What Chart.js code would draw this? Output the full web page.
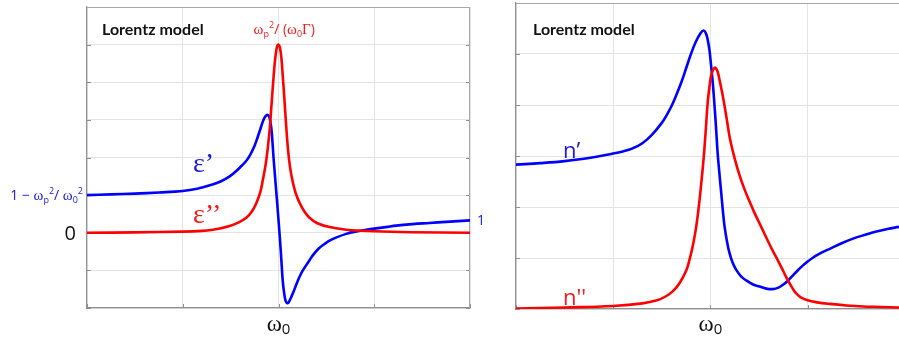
<!DOCTYPE html>
<html>
<head>
<meta charset="utf-8">
<title>Lorentz model</title>
<script src="https://cdn.jsdelivr.net/npm/chart.js@4.4.0/dist/chart.umd.min.js"></script>
<style>
    html, body { margin: 0; padding: 0; background: #fff; overflow: hidden; }
    .panel { position: absolute; top: 0; }
    #panelEps { left: 0; }
    #panelN { left: 500px; }
</style>
</head>
<body>
<div class="panel" id="panelEps"><canvas id="epsChart" width="500" height="340"></canvas></div>
<div class="panel" id="panelN"><canvas id="nChart" width="399" height="340"></canvas></div>

<script>
(function() {
    'use strict';

    // frequency axis: 0 = omega_0, one grid step per unit
    var xTicks = [-2, -1, 0, 1, 2];
    var epsTicks = [-2, -1, 0, 1, 2, 3, 4, 5, 6];
    var nTicks = [0, 1, 2, 3, 4, 5, 6];

    // epsilon' (blue)
    var epsReX = [-2.0, -1.75, -1.5, -1.25, -1.0, -0.85, -0.69, -0.6, -0.51, -0.45, -0.4, -0.34, -0.3, -0.26,
        -0.23, -0.19, -0.16, -0.135, -0.112, -0.095, -0.076, -0.064, -0.052, -0.038, -0.024, -0.01, 0.003,
        0.016, 0.028, 0.045, 0.06, 0.073, 0.085, 0.097, 0.11, 0.133, 0.16, 0.185, 0.22, 0.254, 0.29, 0.324,
        0.358, 0.42, 0.48, 0.533, 0.6, 0.707, 0.8, 0.916, 1.0, 1.12, 1.229, 1.4, 1.577, 1.75, 2.0];
    var epsRe = [1.0, 1.02, 1.04, 1.07, 1.11, 1.17, 1.28, 1.37, 1.5, 1.62, 1.74, 1.9, 2.05, 2.25,
        2.45, 2.75, 2.98, 3.1, 3.13, 3.07, 2.8, 2.45, 2.0, 1.55, 1.11, 0.67, 0.24,
        -0.2, -0.65, -1.3, -1.62, -1.8, -1.86, -1.87, -1.83, -1.71, -1.55, -1.38, -1.17, -1.0, -0.86, -0.73,
        -0.6, -0.42, -0.3, -0.21, -0.13, -0.03, 0.03, 0.08, 0.11, 0.15, 0.19, 0.23, 0.26, 0.29, 0.33];

    // epsilon'' (red)
    var epsImX = [-2.0, -1.5, -1.0, -0.8, -0.686, -0.6, -0.512, -0.42, -0.337, -0.28, -0.233, -0.19, -0.164,
        -0.135, -0.112, -0.09, -0.076, -0.06, -0.045, -0.03, -0.015, 0.0, 0.015, 0.03, 0.045, 0.063, 0.08,
        0.097, 0.12, 0.149, 0.18, 0.219, 0.272, 0.324, 0.4, 0.533, 0.707, 1.0, 1.4, 2.0];
    var epsIm = [0.0, 0.01, 0.03, 0.05, 0.08, 0.12, 0.18, 0.27, 0.4, 0.56, 0.78, 1.08, 1.4,
        1.8, 2.25, 2.8, 3.3, 3.85, 4.35, 4.72, 4.95, 5.0, 4.92, 4.65, 4.15, 3.5, 2.85,
        2.28, 1.75, 1.35, 1.05, 0.8, 0.56, 0.4, 0.26, 0.15, 0.08, 0.04, 0.015, 0.0];

    // n' (blue)
    var nReX = [-2.0, -1.75, -1.5, -1.25, -1.0, -0.9, -0.8, -0.7, -0.6, -0.5, -0.45, -0.4, -0.35, -0.3,
        -0.25, -0.2, -0.15, -0.1, -0.07, -0.045, -0.028, -0.01, 0.007, 0.025, 0.041, 0.058, 0.075, 0.093,
        0.11, 0.127, 0.144, 0.17, 0.196, 0.23, 0.265, 0.315, 0.368, 0.44, 0.505, 0.575, 0.642, 0.7, 0.75,
        0.8, 0.85, 0.9, 0.95, 1.0, 1.05, 1.11, 1.17, 1.227, 1.35, 1.467, 1.6, 1.708, 1.82, 1.94];
    var nRe = [2.83, 2.86, 2.9, 2.96, 3.05, 3.09, 3.15, 3.25, 3.42, 3.65, 3.8, 3.98, 4.2, 4.44,
        4.72, 5.0, 5.24, 5.41, 5.46, 5.4, 5.28, 5.08, 4.77, 4.42, 4.02, 3.55, 3.04, 2.65,
        2.3, 1.95, 1.64, 1.33, 1.1, 0.9, 0.77, 0.64, 0.56, 0.48, 0.44, 0.4, 0.39, 0.42, 0.48,
        0.56, 0.66, 0.76, 0.85, 0.93, 1.0, 1.07, 1.13, 1.18, 1.29, 1.38, 1.46, 1.52, 1.57, 1.61];

    // n'' (red)
    var nImX = [-2.0, -1.5, -1.0, -0.7, -0.55, -0.457, -0.38, -0.32, -0.25, -0.216, -0.18, -0.147, -0.12,
        -0.095, -0.07, -0.05, -0.028, -0.01, 0.007, 0.03, 0.052, 0.075, 0.093, 0.12, 0.144, 0.17, 0.2,
        0.25, 0.3, 0.35, 0.4, 0.45, 0.5, 0.55, 0.6, 0.65, 0.7, 0.75, 0.8, 0.85, 0.885, 0.93, 1.0,
        1.1, 1.227, 1.4, 1.57, 1.75, 1.94];
    var nIm = [0.01, 0.03, 0.06, 0.11, 0.17, 0.25, 0.36, 0.5, 0.75, 0.96, 1.25, 1.6, 2.0,
        2.45, 2.95, 3.45, 4.05, 4.35, 4.58, 4.7, 4.73, 4.65, 4.5, 4.25, 4.0, 3.7, 3.35,
        2.95, 2.62, 2.35, 2.12, 1.9, 1.7, 1.5, 1.3, 1.11, 0.93, 0.74, 0.55, 0.39, 0.3, 0.23, 0.17,
        0.13, 0.1, 0.07, 0.05, 0.04, 0.03];

    var BLUE = '#0000ff';
    var RED = '#ff0000';
    var TEXT_BLUE = '#1a1adb';
    var TEXT_RED = '#f01c1c';
    var SERIF = '"Liberation Serif", "DejaVu Serif", serif';
    var SANS = '"Open Sans", "Noto Sans", sans-serif';

    function zip(xs, ys) {
        return xs.map(function(x, i) { return { x: x, y: ys[i] }; });
    }

    function line(data, color) {
        return {
            data: data,
            borderColor: color,
            borderWidth: 2.6,
            pointRadius: 0,
            fill: false,
            tension: 0.4
        };
    }

    /**
     * Draw a run of text pieces (sub/superscripts via dy)
     */
    function drawRich(ctx, parts, x, y, align, color) {
        var total = 0;
        parts.forEach(function(p) {
            ctx.font = p.f;
            p.w = ctx.measureText(p.t).width;
            total += p.w;
        });
        var cx = x;
        if (align === 'center') cx = x - total / 2;
        if (align === 'right') cx = x - total;
        ctx.fillStyle = color;
        ctx.textBaseline = 'alphabetic';
        ctx.textAlign = 'left';
        parts.forEach(function(p) {
            ctx.font = p.f;
            ctx.fillText(p.t, cx, y + (p.dy || 0));
            cx += p.w;
        });
    }

    /**
     * Frame, inward tick marks and text notes
     */
    var decorPlugin = {
        id: 'decor',
        beforeDatasetsDraw: function(chart, args, opts) {
            var ctx = chart.ctx;
            var a = chart.chartArea;
            var sx = chart.scales.x;
            var sy = chart.scales.y;
            ctx.save();
            ctx.strokeStyle = '#8f8f8f';
            ctx.lineWidth = 1;
            ctx.beginPath();
            sy.ticks.forEach(function(t) {
                var py = Math.round(sy.getPixelForValue(t.value)) + 0.5;
                ctx.moveTo(a.left, py);
                ctx.lineTo(a.left + 4, py);
                if (opts.rightFrame) {
                    ctx.moveTo(a.right, py);
                    ctx.lineTo(a.right - 4, py);
                }
            });
            sx.ticks.forEach(function(t) {
                var px = Math.round(sx.getPixelForValue(t.value)) + 0.5;
                ctx.moveTo(px, a.bottom);
                ctx.lineTo(px, a.bottom - 4);
            });
            ctx.stroke();

            ctx.strokeStyle = '#a8a8a8';
            ctx.beginPath();
            ctx.moveTo(a.left, Math.round(a.top) + 0.5);
            ctx.lineTo(a.right, Math.round(a.top) + 0.5);
            if (opts.rightFrame) {
                ctx.moveTo(Math.round(a.right) - 0.5, a.top);
                ctx.lineTo(Math.round(a.right) - 0.5, a.bottom);
            }
            ctx.stroke();
            ctx.restore();
        },
        afterDraw: function(chart, args, opts) {
            var ctx = chart.ctx;
            var sx = chart.scales.x;
            var sy = chart.scales.y;
            ctx.save();
            (opts.notes || []).forEach(function(n) {
                var x = n.xv !== undefined ? sx.getPixelForValue(n.xv) : n.px;
                var y = n.yv !== undefined ? sy.getPixelForValue(n.yv) : n.py;
                drawRich(ctx, n.parts, x + (n.dx || 0), y + (n.dy || 0), n.align || 'left', n.color);
            });
            ctx.restore();
        }
    };

    function scaleOpts(min, max, ticks) {
        return {
            type: 'linear',
            min: min,
            max: max,
            afterBuildTicks: function(scale) {
                scale.ticks = ticks.filter(function(v) { return v >= min && v <= max; })
                    .map(function(v) { return { value: v }; });
            },
            ticks: { display: false },
            grid: { color: '#e4e4e4', lineWidth: 1, drawTicks: false },
            border: { display: true, color: '#8f8f8f', width: 1.2 }
        };
    }

    var header = { t: 'Lorentz model', f: 'bold 16px Lato, ' + SANS };
    var omega0Label = [
        { t: 'ω', f: '23px ' + SERIF },
        { t: '0', f: '15px ' + SANS, dy: 3 }
    ];

    // dielectric function panel
    new Chart(document.getElementById('epsChart'), {
        type: 'line',
        data: {
            datasets: [line(zip(epsImX, epsIm), RED), line(zip(epsReX, epsRe), BLUE)]
        },
        plugins: [decorPlugin],
        options: {
            responsive: false,
            animation: false,
            layout: { padding: { left: 87, right: 30, top: 7, bottom: 32 } },
            scales: {
                x: scaleOpts(-2, 2, xTicks),
                y: scaleOpts(-2, 6, epsTicks)
            },
            plugins: {
                legend: { display: false },
                tooltip: { enabled: false },
                decor: {
                    rightFrame: true,
                    notes: [
                        { parts: [header], px: 102, py: 35, color: '#111' },
                        { parts: [
                            { t: 'ω', f: '15px ' + SERIF },
                            { t: 'p', f: '9px ' + SANS, dy: 3 },
                            { t: '2', f: '9px ' + SANS, dy: -6 },
                            { t: '/ (', f: '14px ' + SANS },
                            { t: 'ω', f: '15px ' + SERIF },
                            { t: '0', f: '9px ' + SANS, dy: 3 },
                            { t: 'Γ', f: '15px ' + SERIF },
                            { t: ')', f: '14px ' + SANS }
                          ], xv: 0.06, py: 34, align: 'center', color: TEXT_RED },
                        { parts: [
                            { t: '1 − ', f: '14px ' + SANS },
                            { t: 'ω', f: '15px ' + SERIF },
                            { t: 'p', f: '9px ' + SANS, dy: 3 },
                            { t: '2', f: '9px ' + SANS, dy: -6 },
                            { t: '/ ', f: '14px ' + SANS },
                            { t: 'ω', f: '15px ' + SERIF },
                            { t: '0', f: '9px ' + SANS, dy: 3 },
                            { t: '2', f: '9px ' + SANS, dy: -6 }
                          ], px: 83, yv: 1, dy: 5, align: 'right', color: TEXT_BLUE },
                        { parts: [{ t: '0', f: '20px ' + SANS }], px: 76, yv: 0, dy: 7, align: 'right', color: '#111' },
                        { parts: [{ t: '1', f: '14px ' + SANS }], px: 477, yv: 0.35, dy: 5, color: TEXT_BLUE },
                        { parts: [{ t: 'ε’', f: '28px ' + SERIF }], px: 193, py: 172, color: TEXT_BLUE },
                        { parts: [{ t: 'ε’’', f: '28px ' + SERIF }], px: 193, py: 223, color: TEXT_RED },
                        { parts: omega0Label, xv: 0, py: 331, align: 'center', color: '#111' }
                    ]
                }
            }
        }
    });

    // refractive index panel (cut at the right window edge)
    new Chart(document.getElementById('nChart'), {
        type: 'line',
        data: {
            datasets: [line(zip(nImX, nIm), RED), line(zip(nReX, nRe), BLUE)]
        },
        plugins: [decorPlugin],
        options: {
            responsive: false,
            animation: false,
            layout: { padding: { left: 16, right: 0, top: 3, bottom: 31 } },
            scales: {
                x: scaleOpts(-2, 1.94, xTicks),
                y: scaleOpts(0, 6, nTicks)
            },
            plugins: {
                legend: { display: false },
                tooltip: { enabled: false },
                decor: {
                    rightFrame: false,
                    notes: [
                        { parts: [header], px: 33, py: 35, color: '#111' },
                        { parts: [{ t: 'n’', f: '22px ' + SANS }], px: 63, py: 158, color: TEXT_BLUE },
                        { parts: [{ t: "n''", f: '22px ' + SANS }], px: 63, py: 305, color: TEXT_RED },
                        { parts: omega0Label, xv: 0, py: 331, align: 'center', color: '#111' }
                    ]
                }
            }
        }
    });

})();
</script>
</body>
</html>
